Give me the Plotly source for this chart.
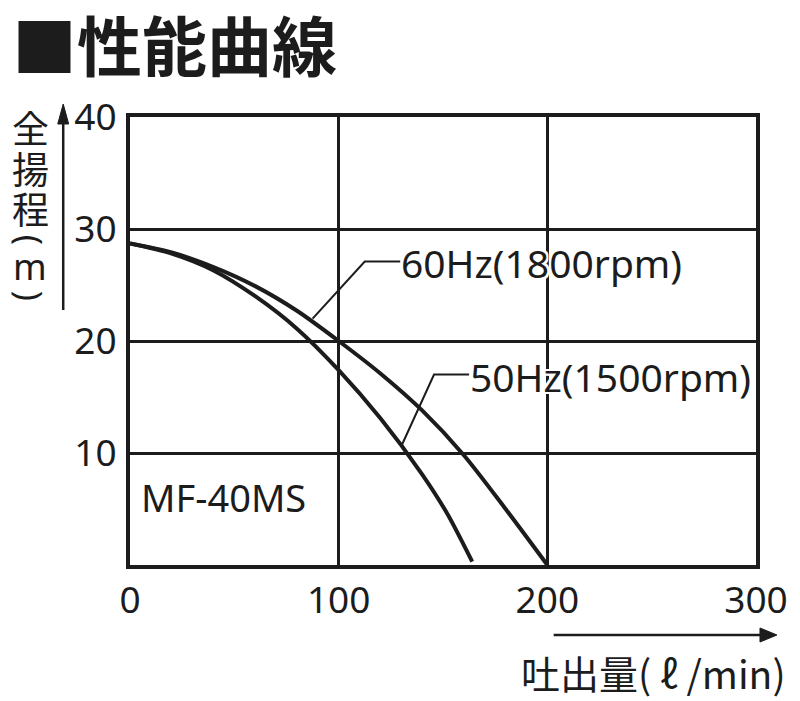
import plotly.graph_objects as go

# ---- data ----
flow_60 = [0, 20, 40, 60, 80, 100, 120, 140, 160, 180, 200]
head_60 = [28.7, 27.9, 26.6, 24.9, 22.7, 20.0, 17.1, 13.8, 9.8, 5.0, 0.0]
flow_50 = [0, 20, 40, 60, 80, 100, 120, 140, 152, 164]
head_50 = [28.7, 27.8, 26.3, 24.0, 21.1, 17.4, 13.1, 8.1, 4.6, 0.3]

x_ticks = [0, 100, 200, 300]
x_tick_labels = ["0", "100", "200", "300"]
y_ticks = [10, 20, 30, 40]
y_tick_labels = ["10", "20", "30", "40"]

label_60 = "60Hz(1800rpm)"
label_50 = "50Hz(1500rpm)"
model = "MF-40MS"
title = "■性能曲線"
x_title = "吐出量( ℓ /min)"

INK = "#1c1c1c"
FONT = "Noto Sans"
CJK = "Noto Sans CJK JP"

fig = go.Figure()
fig.add_trace(go.Scatter(x=flow_60, y=head_60, mode="lines",
                         line=dict(color=INK, width=4, shape="spline", smoothing=0.8),
                         hoverinfo="skip", showlegend=False))
fig.add_trace(go.Scatter(x=flow_50, y=head_50, mode="lines",
                         line=dict(color=INK, width=4, shape="spline", smoothing=0.8),
                         hoverinfo="skip", showlegend=False))

# the page has an 8px body margin; figure sized to fit the 800x701 window
W, H = 792, 693
L, T = 122, 109
R, B = W - 750, H - 557
OFF = 8
DL, DR, DT, DB = L + OFF, 750 + OFF, T + OFF, 557 + OFF  # data area in page px
pw, ph = DR - DL, DB - DT

def px(xp):
    return (xp - DL) / pw

def py(yp):
    return (DB - yp) / ph

shapes = []
# leader lines (data coords)
shapes.append(dict(type="path", xref="x", yref="y",
                   path="M 87.5,22.0 L 112.5,27.1 L 129.5,27.1",
                   line=dict(color=INK, width=2)))
shapes.append(dict(type="path", xref="x", yref="y",
                   path="M 130.5,10.8 L 145.7,17.0 L 162.5,17.0",
                   line=dict(color=INK, width=2)))
# y-axis arrow
shapes.append(dict(type="line", xref="paper", yref="paper",
                   x0=px(63), x1=px(63), y0=py(310), y1=py(120),
                   line=dict(color=INK, width=2.5)))
shapes.append(dict(type="path", xref="paper", yref="paper",
                   path=f"M {px(63)},{py(104)} L {px(57.5)},{py(124)} L {px(68.5)},{py(124)} Z",
                   fillcolor=INK, line=dict(color=INK, width=1)))
# x-axis arrow
shapes.append(dict(type="line", xref="paper", yref="paper",
                   x0=px(555), x1=px(765), y0=py(635), y1=py(635),
                   line=dict(color=INK, width=2.5)))
shapes.append(dict(type="path", xref="paper", yref="paper",
                   path=f"M {px(779)},{py(635)} L {px(762)},{py(628)} L {px(762)},{py(642)} Z",
                   fillcolor=INK, line=dict(color=INK, width=1)))

halo = ("white 2px 0 0, white -2px 0 0, white 0 2px 0, white 0 -2px 0, "
        "white 2px 2px 0, white -2px -2px 0, white 2px -2px 0, white -2px 2px 0")

annotations = []
annotations.append(dict(x=128.8, y=27.0, xref="x", yref="y", text=label_60,
                        showarrow=False, xanchor="left", yanchor="middle",
                        font=dict(family=FONT, size=39, color=INK, shadow=halo)))
annotations.append(dict(x=162.0, y=16.8, xref="x", yref="y", text=label_50,
                        showarrow=False, xanchor="left", yanchor="middle",
                        font=dict(family=FONT, size=39, color=INK, shadow=halo)))
annotations.append(dict(x=px(139), y=py(497), xref="paper", yref="paper", text=model,
                        showarrow=False, xanchor="left", yanchor="middle",
                        font=dict(family=FONT, size=38, color=INK)))
annotations.append(dict(x=px(10), y=py(43), xref="paper", yref="paper", text=title,
                        showarrow=False, xanchor="left", yanchor="middle",
                        font=dict(family=CJK, size=65, color=INK, weight="bold")))
# vertical y-axis title: 全 揚 程 （ m ）
y_title_parts = [("全", 127, 0, CJK, 37), ("揚", 168, 0, CJK, 37), ("程", 208, 0, CJK, 37),
                 ("(", 240, 90, FONT, 34), ("m", 266, 0, FONT, 36), (")", 296, 90, FONT, 34)]
for ch, yc, ang, fam, sz in y_title_parts:
    annotations.append(dict(x=px(30), y=py(yc), xref="paper", yref="paper", text=ch,
                            showarrow=False, xanchor="center", yanchor="middle",
                            textangle=ang,
                            font=dict(family=fam, size=sz, color=INK)))
annotations.append(dict(x=px(790), y=py(672), xref="paper", yref="paper", text=x_title,
                        showarrow=False, xanchor="right", yanchor="middle",
                        font=dict(family=CJK, size=39, color=INK)))

fig.update_layout(
    width=W, height=H,
    margin=dict(l=L, r=R, t=T, b=B),
    paper_bgcolor="white", plot_bgcolor="white",
    shapes=shapes, annotations=annotations,
    showlegend=False,
)
fig.update_xaxes(range=[0, 300], tickvals=x_ticks, ticktext=x_tick_labels,
                 showgrid=True, gridcolor=INK, gridwidth=2.5,
                 showline=True, linecolor=INK, linewidth=4, mirror=True,
                 zeroline=False, ticks="", ticklabelstandoff=0,
                 tickfont=dict(family=FONT, size=37, color=INK), fixedrange=True)
fig.update_yaxes(range=[0, 40], tickvals=y_ticks, ticktext=y_tick_labels,
                 showgrid=True, gridcolor=INK, gridwidth=2.5,
                 showline=True, linecolor=INK, linewidth=4, mirror=True,
                 zeroline=False, ticks="", ticklabelstandoff=2,
                 tickfont=dict(family=FONT, size=37, color=INK), fixedrange=True)

fig.write_html("out.html", config={"displayModeBar": False})
